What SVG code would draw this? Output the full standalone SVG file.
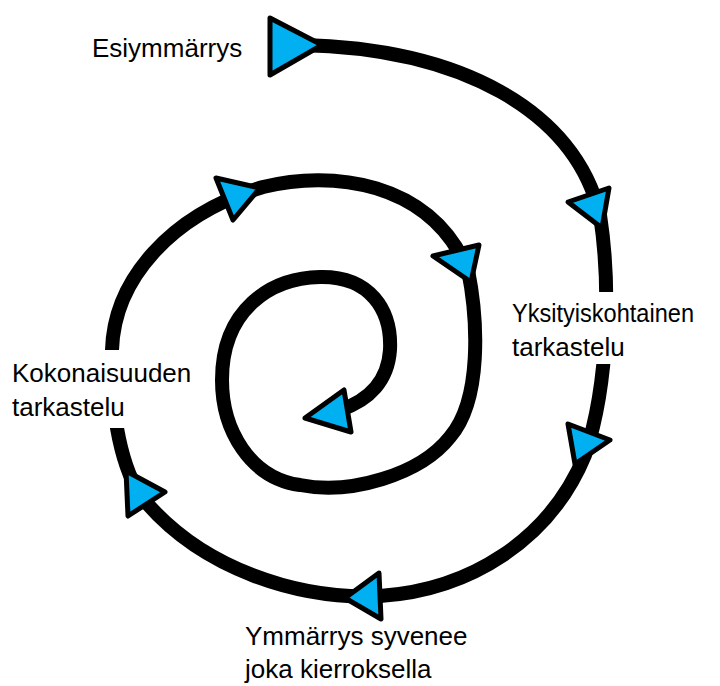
<svg xmlns="http://www.w3.org/2000/svg" width="720" height="686" viewBox="0 0 720 686">
<style>
.spiral{fill:none;stroke:#000;stroke-width:14;stroke-linecap:butt;stroke-linejoin:round}
.arrow{fill:#00B0F0;stroke:#000;stroke-width:5;stroke-linejoin:round}
.lbl{font-family:"Liberation Sans",Arial,sans-serif;font-size:26px;fill:#000}
.bg{fill:#fff}
</style>
<rect width="720" height="686" fill="#fff"/>
<g id="connectors">
<path class="spiral" d="M300,45 C460,48 575,110 600,215 C610,280 610,380 585,455 C550,540 470,590 380,596 C300,600 200,570 140,495 C118,460 110,400 112,350 C114,280 170,215 263,187 C330,170 430,180 468,270 C478,320 482,400 450,437 C420,475 350,495 300,485 C250,478 222,430 222,380 C222,310 270,278 320,277 C370,276 392,310 390,350 C388,380 370,400 340,410"/>
</g>
<g id="arrows">
<polygon class="arrow" points="270,18 270,75 322,45"/>
<polygon class="arrow" points="568,202 609,188 602,228"/>
<polygon class="arrow" points="568,424 610,440 575,464"/>
<polygon class="arrow" points="379,573 345,598 381,619"/>
<polygon class="arrow" points="126,471 165,492 128,516"/>
<polygon class="arrow" points="216,178 260,188 233,220"/>
<polygon class="arrow" points="433,256 479,245 471,282"/>
<polygon class="arrow" points="305,418 344,390 351,432"/>
</g>
<g id="node-esiymmarrys">
<text class="lbl" x="92" y="57">Esiymmärrys</text>
</g>
<g id="node-yksityiskohtainen">
<rect class="bg" x="505" y="292" width="200" height="72"/>
<text class="lbl" x="512" y="322" textLength="182" lengthAdjust="spacingAndGlyphs">Yksityiskohtainen</text>
<text class="lbl" x="512" y="356">tarkastelu</text>
</g>
<g id="node-kokonaisuuden">
<rect class="bg" x="8" y="350" width="190" height="78"/>
<text class="lbl" x="12" y="382">Kokonaisuuden</text>
<text class="lbl" x="12" y="416">tarkastelu</text>
</g>
<g id="node-ymmarrys">
<text class="lbl" x="245" y="645">Ymmärrys syvenee</text>
<text class="lbl" x="245" y="678">joka kierroksella</text>
</g>
</svg>
